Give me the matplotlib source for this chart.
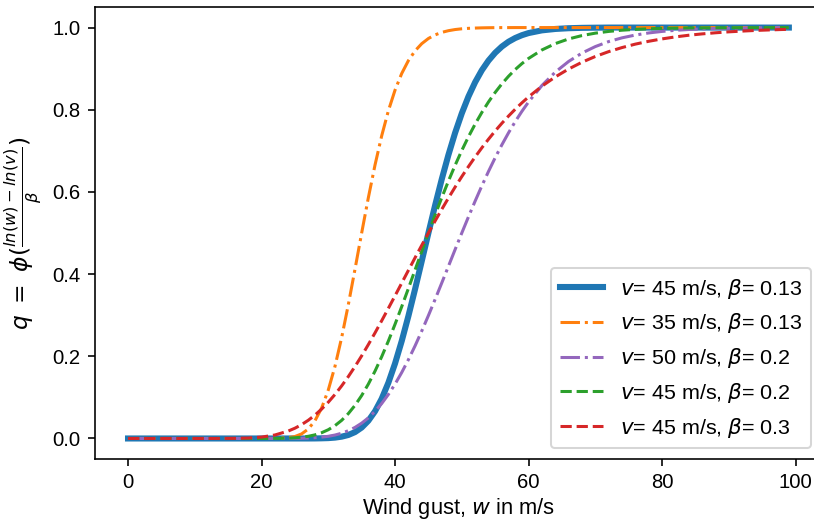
import matplotlib
matplotlib.use("Agg")
import matplotlib.pyplot as plt

# wind gust speeds (m/s), coarse grid
w = [0, 2, 4, 6, 8, 10, 12, 14, 16, 18, 20, 22, 24, 26, 28, 30, 32, 34, 36, 38,
     40, 42, 44, 46, 48, 50, 52, 54, 56, 58, 60, 62, 64, 66, 68, 70, 72, 74, 76, 78,
     80, 82, 84, 86, 88, 90, 92, 94, 96, 98, 99]
# extra gust speeds in the steep part of the curves
w_fine = [25, 27, 29, 31, 33, 35, 37, 39, 41, 43, 45, 47, 49, 51, 53, 55, 57, 59]

# fragility values, one list per curve
q_v45_b013 = [0, 0, 0, 0, 0, 0, 0, 0, 0, 0, 0, 0, 0, 0,
              0.0001, 0.0009, 0.0044, 0.0155, 0.0431, 0.0967, 0.1825, 0.2978, 0.4314,
              0.5671, 0.6902, 0.7912, 0.8670, 0.9196, 0.9537, 0.9745, 0.9866, 0.9932,
              0.9966, 0.9984, 0.9993, 0.9997,
              1, 1, 1, 1, 1, 1, 1, 1, 1, 1, 1, 1, 1, 1, 1]
q_v35_b013 = [0, 0, 0, 0, 0, 0, 0, 0, 0, 0, 0,
              0.0002, 0.0019, 0.0111, 0.0430, 0.1179, 0.2453, 0.4118, 0.5858, 0.7365,
              0.8478, 0.9196, 0.9608, 0.9822, 0.9924, 0.9970, 0.9988, 0.9996, 0.9999,
              1, 1, 1, 1, 1, 1, 1, 1, 1, 1, 1,
              1, 1, 1, 1, 1, 1, 1, 1, 1, 1, 1]
q_v50_b02 = [0, 0, 0, 0, 0, 0, 0, 0, 0, 0, 0, 0,
             0.0001, 0.0005, 0.0019, 0.0053, 0.0128, 0.0269, 0.0502, 0.0850, 0.1323,
             0.1917, 0.2614, 0.3384, 0.4191, 0.5, 0.5777, 0.6498, 0.7145, 0.7710,
             0.8190, 0.8589, 0.8915, 0.9175, 0.9379, 0.9537, 0.9659, 0.9750, 0.9818,
             0.9869, 0.9906, 0.9933, 0.9953, 0.9967, 0.9977, 0.9984, 0.9989, 0.9992,
             0.9995, 0.9996, 0.9997]
q_v45_b02 = [0, 0, 0, 0, 0, 0, 0, 0, 0, 0, 0,
             0.0002, 0.0008, 0.0031, 0.0088, 0.0213, 0.0441, 0.0806, 0.1323, 0.1990,
             0.2780, 0.3650, 0.4553, 0.5438, 0.6265, 0.7008, 0.7651, 0.8190, 0.8629,
             0.8978, 0.9248, 0.9455, 0.9609, 0.9723, 0.9805, 0.9864, 0.9906, 0.9936,
             0.9956, 0.9970, 0.9980, 0.9987, 0.9991, 0.9994, 0.9996, 0.9997, 0.9998,
             0.9999, 0.9999, 1, 1]
q_v45_b03 = [0, 0, 0, 0, 0, 0, 0,
             0.0001, 0.0003, 0.0011, 0.0034, 0.0085, 0.0181, 0.0337, 0.0569, 0.0883,
             0.1279, 0.1751, 0.2285, 0.2865, 0.3473, 0.4091, 0.4701, 0.5292, 0.5852,
             0.6373, 0.6851, 0.7283, 0.7670, 0.8012, 0.8312, 0.8573, 0.8798, 0.8991,
             0.9156, 0.9296, 0.9414, 0.9513, 0.9597, 0.9666, 0.9724, 0.9773, 0.9813,
             0.9846, 0.9873, 0.9896, 0.9914, 0.9930, 0.9942, 0.9953, 0.9957]

# values at w_fine
q_v45_b013_fine = [0, 0.0000, 0.0004, 0.0021, 0.0085, 0.0266, 0.0661, 0.1355, 0.2370,
                   0.3633, 0.5, 0.6310, 0.7438, 0.8322, 0.8960, 0.9386, 0.9655, 0.9814]
q_v35_b013_fine = [0.0048, 0.0230, 0.0740, 0.1753, 0.3254, 0.5, 0.6655, 0.7974, 0.8882,
                   0.9433, 0.9734, 0.9883, 0.9952, 0.9981, 0.9993, 0.9998, 0.9999, 1]
q_v50_b02_fine = [0.0003, 0.0010, 0.0032, 0.0084, 0.0189, 0.0373, 0.0661, 0.1071, 0.1605,
                  0.2254, 0.2992, 0.3785, 0.4598, 0.5394, 0.6146, 0.6832, 0.7438, 0.7960]
q_v45_b02_fine = [0.0017, 0.0053, 0.0140, 0.0312, 0.0605, 0.1045, 0.1639, 0.2371, 0.3208,
                  0.4101, 0.5, 0.5861, 0.6649, 0.7343, 0.7933, 0.8421, 0.8814, 0.9122]
q_v45_b03_fine = [0.0250, 0.0443, 0.0715, 0.1071, 0.1506, 0.2011, 0.2570, 0.3167, 0.3782,
                  0.4398, 0.5, 0.5576, 0.6118, 0.6617, 0.7073, 0.7483, 0.7846, 0.8167]

labels = [r'$v$= 45 m/s, $\beta$= 0.13',
          r'$v$= 35 m/s, $\beta$= 0.13',
          r'$v$= 50 m/s, $\beta$= 0.2',
          r'$v$= 45 m/s, $\beta$= 0.2',
          r'$v$= 45 m/s, $\beta$= 0.3']


def merge(q, q_fine):
    # put coarse and fine points together in order of w
    pts = sorted(zip(w + w_fine, q + q_fine))
    return [p[0] for p in pts], [p[1] for p in pts]


plt.rcParams['font.family'] = ['Liberation Sans', 'DejaVu Sans']
plt.rcParams['font.size'] = 10

fig = plt.figure(figsize=(814 / 146, 524 / 146), dpi=146)
ax = fig.add_axes([0.1167, 0.124, 0.893, 0.8626])

series = [
    (q_v45_b013, q_v45_b013_fine, 'C0', '-', 3),
    (q_v35_b013, q_v35_b013_fine, 'C1', '-.', 1.5),
    (q_v50_b02, q_v50_b02_fine, 'C4', '-.', 1.5),
    (q_v45_b02, q_v45_b02_fine, 'C2', '--', 1.5),
    (q_v45_b03, q_v45_b03_fine, 'C3', '--', 1.5),
]
for (q, qf, c, ls, lw), lab in zip(series, labels):
    x, y = merge(q, qf)
    ax.plot(x, y, color=c, linestyle=ls, linewidth=lw, label=lab)

ax.set_xticks([0, 20, 40, 60, 80, 100])
ax.set_yticks([0.0, 0.2, 0.4, 0.6, 0.8, 1.0])
ax.set_xlabel(r'Wind gust, $w$ in m/s', fontsize=10.8, labelpad=2)
ax.set_ylabel(r'$q\ =\ \phi(\frac{ln(w) - ln(v)}{\beta})$', fontsize=11.5)
ax.legend(loc='lower right', fontsize=10.6)

fig.savefig('out.png', dpi=146)
